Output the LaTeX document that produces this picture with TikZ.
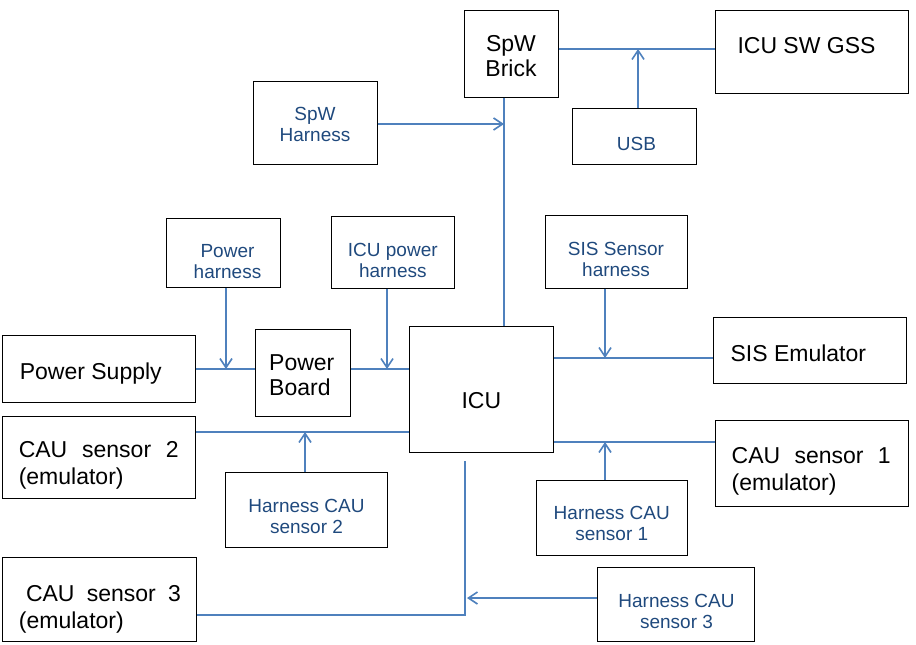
\documentclass[tikz,border=0pt]{standalone}
\usepackage{fontspec}
\setmainfont{Liberation Sans}
\usetikzlibrary{arrows.meta}
\definecolor{linkblue}{RGB}{79,129,189}
\definecolor{harnessblue}{RGB}{31,73,125}

\begin{document}
\begin{tikzpicture}[x=1pt,y=-1pt,
  box/.style={draw,line width=1pt,inner sep=0pt},
  big/.style={font=\fontsize{23}{25}\selectfont,align=left},
  wide/.style={big,font=\fontsize{23}{27}\selectfont},
  small/.style={font=\fontsize{19}{21}\selectfont,text=harnessblue,align=center},
  link/.style={linkblue,line width=1.6pt},
  feed/.style={link,-{Straight Barb[length=9pt,width=12pt]}}]
  \useasboundingbox (0,0) rectangle (916,645);
  \node[box,minimum width=94,minimum height=87,label={[big,align=center,yshift=-3]center:SpW\\Brick}] (brick) at (511,53.5) {};
  \node[box,minimum width=193,minimum height=83,label={[big,xshift=-5,yshift=5.5]center:ICU SW GSS}] (gss) at (811.5,51.5) {};
  \node[box,minimum width=124,minimum height=56,label={[small,xshift=2.5,yshift=-7.5]center:USB}] (usb) at (634,136) {};
  \node[box,minimum width=124,minimum height=83,label={[small,yshift=-1.5]center:SpW\\Harness}] (spwh) at (315,122.5) {};
  \node[box,minimum width=114,minimum height=69,label={[small,xshift=4,yshift=-8.7]center:Power\\harness}] (pharness) at (223.5,252.8) {};
  \node[box,minimum width=123,minimum height=72,label={[small,yshift=-7.8]center:ICU power\\harness}] (ipharness) at (392.8,252.2) {};
  \node[box,minimum width=142,minimum height=73,label={[small,yshift=-8]center:SIS Sensor\\harness}] (sish) at (616,251.5) {};
  \node[box,minimum width=193,minimum height=67,label={[big,xshift=-8,yshift=-4.7]center:Power Supply}] (psu) at (98.8,368.7) {};
  \node[box,minimum width=95,minimum height=87,label={[big,xshift=-1,yshift=-2.5]center:Power\\Board}] (pboard) at (302.8,372.7) {};
  \node[box,minimum width=144,minimum height=126,label={[big,yshift=-11.2]center:ICU}] (icu) at (481.3,389.5) {};
  \node[box,minimum width=193,minimum height=66,label={[big,xshift=-11.5,yshift=-2.2]center:SIS Emulator}] (sis) at (809.8,350.8) {};
  \node[box,minimum width=193,minimum height=82,label={[wide,yshift=-8.3]center:{\makebox[160pt][s]{CAU sensor 2}}\\(emulator)}] (cau2) at (98.8,457.5) {};
  \node[box,minimum width=193,minimum height=86,label={[wide,xshift=-0.6,yshift=-7.9]center:{\makebox[159pt][s]{CAU sensor 1}}\\(emulator)}] (cau1) at (811.8,463.8) {};
  \node[box,minimum width=194,minimum height=84,label={[wide,xshift=1,yshift=-10]center:{\hspace*{7pt}\makebox[155pt][s]{CAU sensor 3}}\\(emulator)}] (cau3) at (99,599) {};
  \node[box,minimum width=162,minimum height=75,label={[small,yshift=-6.5]center:Harness CAU\\sensor 2}] (h2) at (306.5,509.8) {};
  \node[box,minimum width=151,minimum height=75,label={[small,yshift=-5.9]center:Harness CAU\\sensor 1}] (h1) at (611.8,517.8) {};
  \node[box,minimum width=157,minimum height=74,label={[small,xshift=1,yshift=-7.3]center:Harness CAU\\sensor 3}] (h3) at (675.5,604) {};
  \coordinate (gssbus) at (638,49);
  \coordinate (spwbus) at (504,124);
  \coordinate (pwrtap) at (226,369);
  \coordinate (icupwrtap) at (387,369);
  \coordinate (sisbus) at (605,358);
  \coordinate (cau2bus) at (305,432);
  \coordinate (cau1bus) at (605,442);
  \coordinate (cau3bus) at (465,615);
  \coordinate (h3bus) at (467,598);
  \draw[link] (brick.east |- gssbus) -- (gss.west |- gssbus);
  \draw[feed] (usb.north -| gssbus) -- (gssbus);
  \draw[link] (brick.south -| spwbus) -- (icu.north -| spwbus);
  \draw[feed] (spwh.east |- spwbus) -- (spwbus);
  \draw[link] (psu.east |- pwrtap) -- (pboard.west |- pwrtap);
  \draw[link] (pboard.east |- pwrtap) -- (icu.west |- pwrtap);
  \draw[feed] (pharness.south -| pwrtap) -- (pwrtap);
  \draw[feed] (ipharness.south -| icupwrtap) -- (icupwrtap);
  \draw[link] (icu.east |- sisbus) -- (sis.west |- sisbus);
  \draw[feed] (sish.south -| sisbus) -- (sisbus);
  \draw[link] (cau2.east |- cau2bus) -- (icu.west |- cau2bus);
  \draw[feed] (h2.north -| cau2bus) -- (cau2bus);
  \draw[link] (icu.east |- cau1bus) -- (cau1.west |- cau1bus);
  \draw[feed] (h1.north -| cau1bus) -- (cau1bus);
  \draw[link] (icu.south -| cau3bus) ++(0,8) -- (cau3bus) -- (cau3.east |- cau3bus);
  \draw[feed] (h3.west |- h3bus) -- (h3bus);
\end{tikzpicture}
\end{document}
